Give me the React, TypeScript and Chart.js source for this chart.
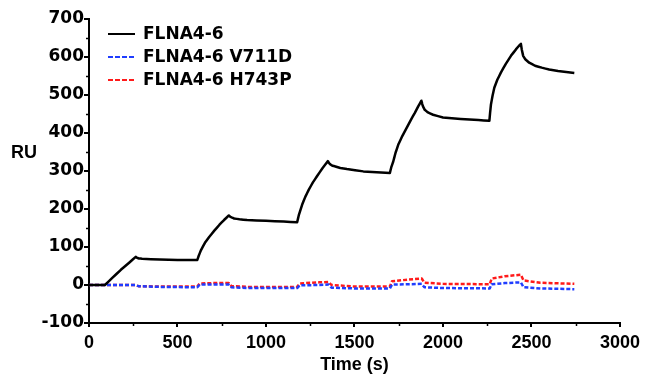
import React, { useEffect, useRef } from "react";
import { Chart, registerables } from "chart.js";

Chart.register(...registerables);

// ---- data ----
const seriesNames = ["FLNA4-6", "FLNA4-6 V711D", "FLNA4-6 H743P"];

const wtTime = [0, 90, 130, 180, 230, 264, 270, 280, 300, 400, 500, 612, 620, 633, 655, 680, 708, 736, 763, 790, 797, 805, 820, 850, 893, 1000, 1100, 1176, 1185, 1204, 1222, 1242, 1265, 1288, 1320, 1350, 1356, 1362, 1375, 1392, 1420, 1457, 1550, 1650, 1700, 1708, 1719, 1732, 1747, 1770, 1794, 1818, 1841, 1860, 1878, 1883, 1887, 1897, 1915, 1944, 2000, 2100, 2200, 2262, 2266, 2271, 2280, 2290, 2307, 2327, 2355, 2384, 2412, 2440, 2445, 2453, 2465, 2487, 2520, 2558, 2600, 2650, 2742];
const wtRU = [0, 0, 18, 40, 60, 74, 72, 70, 69, 67, 66, 66, 77, 92, 111, 127, 143, 158, 171, 183, 180, 178, 175, 173, 171, 169, 167, 165, 183, 211, 232, 251, 270, 286, 308, 326, 321, 318, 314, 312, 308, 305, 299, 296, 295, 310, 325, 348, 369, 392, 413, 434, 453, 470, 485, 476, 470, 461, 454, 448, 441, 437, 434, 432, 452, 475, 498, 519, 540, 559, 582, 603, 620, 635, 620, 603, 594, 585, 577, 572, 567, 563, 558];

const mutTime = [0, 90, 260, 280, 400, 612, 625, 700, 790, 805, 900, 1176, 1190, 1300, 1354, 1370, 1500, 1700, 1712, 1800, 1880, 1895, 2000, 2264, 2275, 2350, 2440, 2455, 2550, 2742];
const v711dRU = [0, 0, 0, -3, -5, -6, 1, 1, 1, -6, -8, -8, -1, 0, 1, -7, -9, -9, 1, 2, 3, -6, -8, -9, 2, 5, 7, -6, -9, -11];
const h743pRU = [0, 0, 0, -3, -4, -4, 4, 5, 5, -3, -5, -5, 4, 7, 8, 0, -4, -4, 10, 14, 17, 6, 3, 2, 17, 23, 27, 12, 6, 3];

const xTickValues = [0, 500, 1000, 1500, 2000, 2500, 3000];
const yTickValues = [-100, 0, 100, 200, 300, 400, 500, 600, 700];

const toPoints = (t: number[], v: number[]) => t.map((x, i) => ({ x, y: v[i] }));

const decorPlugin = {
  id: "decor",
  afterDraw(chart: any) {
    const { ctx, chartArea, scales } = chart;
    const xs = scales.x;
    const ys = scales.y;
    ctx.save();
    ctx.strokeStyle = "#000";
    ctx.lineWidth = 1.5;
    // minor ticks
    for (let i = 0; i < yTickValues.length - 1; i++) {
      const v = (yTickValues[i] + yTickValues[i + 1]) / 2;
      const py = Math.round(ys.getPixelForValue(v)) + 0.5;
      ctx.beginPath();
      ctx.moveTo(chartArea.left - 3, py);
      ctx.lineTo(chartArea.left, py);
      ctx.stroke();
    }
    for (let i = 0; i < xTickValues.length - 1; i++) {
      const v = (xTickValues[i] + xTickValues[i + 1]) / 2;
      const px = Math.round(xs.getPixelForValue(v)) + 0.5;
      ctx.beginPath();
      ctx.moveTo(px, chartArea.bottom);
      ctx.lineTo(px, chartArea.bottom + 3);
      ctx.stroke();
    }
    // legend
    const rows = [34, 57, 80];
    chart.data.datasets.forEach((ds: any, i: number) => {
      const y = rows[i];
      ctx.strokeStyle = ds.borderColor;
      ctx.lineWidth = 2;
      ctx.setLineDash(ds.borderDash ? [5, 2] : []);
      ctx.beginPath();
      ctx.moveTo(108, y);
      ctx.lineTo(135, y);
      ctx.stroke();
      ctx.setLineDash([]);
      ctx.fillStyle = "#000";
      ctx.font = "bold 17px 'DejaVu Sans'";
      ctx.textAlign = "left";
      ctx.textBaseline = "middle";
      ctx.fillText(ds.label, 143, y + 1);
    });
    // y axis title (horizontal)
    ctx.font = "bold 18px 'Liberation Sans'";
    ctx.textAlign = "center";
    ctx.textBaseline = "middle";
    ctx.fillStyle = "#000";
    ctx.fillText("RU", 24, 153);
    ctx.restore();
  },
};

export default function App() {
  const ref = useRef<HTMLCanvasElement | null>(null);
  useEffect(() => {
    if (!ref.current) return;
    const chart = new Chart(ref.current, {
      type: "line",
      data: {
        datasets: [
          {
            label: seriesNames[0],
            data: toPoints(wtTime, wtRU),
            borderColor: "#000000",
            borderWidth: 2.5,
            borderJoinStyle: "round",
            pointRadius: 0,
            tension: 0.001,
            fill: false,
          },
          {
            label: seriesNames[1],
            data: toPoints(mutTime, v711dRU),
            borderColor: "#1f3dff",
            borderWidth: 2.5,
            borderDash: [4, 2],
            borderJoinStyle: "round",
            pointRadius: 0,
            tension: 0,
            fill: false,
          },
          {
            label: seriesNames[2],
            data: toPoints(mutTime, h743pRU),
            borderColor: "#ff1a1a",
            borderWidth: 2.5,
            borderDash: [4, 2],
            borderJoinStyle: "round",
            pointRadius: 0,
            tension: 0,
            fill: false,
          },
        ],
      },
      options: {
        animation: false,
        responsive: false,
        layout: { padding: { left: 0, right: 22, top: 19, bottom: 0 } },
        plugins: { legend: { display: false }, tooltip: { enabled: false } },
        scales: {
          x: {
            type: "linear",
            min: 0,
            max: 3000,
            afterBuildTicks: (s: any) => {
              s.ticks = xTickValues.map((v) => ({ value: v }));
            },
            afterFit: (s: any) => {
              s.height = 53;
            },
            border: { display: true, color: "#000", width: 2 },
            grid: { display: true, drawOnChartArea: false, drawTicks: true, tickLength: 4, color: "#000", lineWidth: 2 },
            ticks: {
              color: "#000",
              padding: 5,
              maxRotation: 0,
              callback: (v: any) => String(v),
              font: { family: "'Liberation Sans'", size: 18, weight: "bold" },
            },
            title: {
              display: true,
              text: "Time (s)",
              color: "#000",
              padding: { top: 0, bottom: 0 },
              font: { family: "'Liberation Sans'", size: 18, weight: "bold" },
            },
          },
          y: {
            type: "linear",
            min: -100,
            max: 700,
            afterBuildTicks: (s: any) => {
              s.ticks = yTickValues.map((v) => ({ value: v }));
            },
            afterFit: (s: any) => {
              s.width = 89;
            },
            border: { display: true, color: "#000", width: 2 },
            grid: { display: true, drawOnChartArea: false, drawTicks: true, tickLength: 5, color: "#000", lineWidth: 2 },
            ticks: {
              color: "#000",
              padding: 0,
              callback: (v: any) => String(v),
              font: { family: "'DejaVu Sans'", size: 17, weight: "bold" },
            },
          },
        },
      },
      plugins: [decorPlugin],
    } as any);
    return () => chart.destroy();
  }, []);
  return (
    <div style={{ position: "absolute", left: 0, top: 0, width: 645, height: 376, background: "#fff" }}>
      <canvas ref={ref} width={645} height={376} style={{ display: "block" }} />
    </div>
  );
}
